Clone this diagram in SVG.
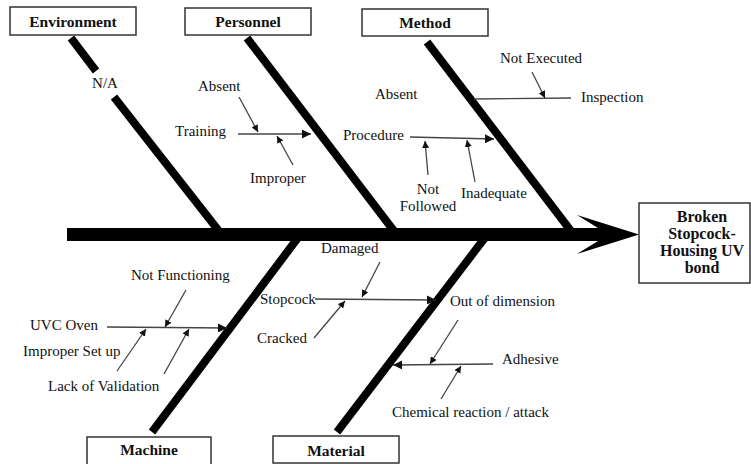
<svg xmlns="http://www.w3.org/2000/svg" width="751" height="464" viewBox="0 0 751 464">
<defs>
<style>
text{font-family:"Liberation Serif","Times New Roman","DejaVu Serif",serif;font-size:15px;fill:#111}
.hd{font-weight:bold;font-size:15.5px;text-anchor:middle}
.ef{font-weight:bold;font-size:16px;text-anchor:middle}
.box{fill:#fff;stroke:#333;stroke-width:1.5}
.bone{stroke:#000;stroke-width:8;fill:none}
.sub{stroke:#444;stroke-width:1.3;fill:none}
.sa{stroke:#444;stroke-width:1.3;fill:none;marker-end:url(#ah)}
</style>
<marker id="ah" viewBox="0 0 10 10" refX="10" refY="5" markerWidth="7" markerHeight="7" markerUnits="userSpaceOnUse" orient="auto">
<path d="M0,0 L10,5 L0,10 Z" fill="#111"/>
</marker>
<marker id="ahb" viewBox="0 0 10 10" refX="10" refY="5" markerWidth="9" markerHeight="9" markerUnits="userSpaceOnUse" orient="auto">
<path d="M0,0 L10,5 L0,10 Z" fill="#111"/>
</marker>
</defs>
<rect width="751" height="464" fill="#fff"/>
<g id="connectors">
<rect x="67" y="228" width="533" height="13" fill="#000"/>
<polygon points="577,215 639,234.5 577,254 598,241 598,228" fill="#000"/>
<line class="bone" x1="71" y1="38" x2="96" y2="71"/>
<line class="bone" x1="114" y1="97" x2="222" y2="235"/>
<line class="bone" x1="247" y1="38" x2="397" y2="235"/>
<line class="bone" x1="427" y1="42" x2="574" y2="235"/>
<line class="bone" x1="152" y1="432" x2="300" y2="235"/>
<line class="bone" x1="337" y1="432" x2="487" y2="235"/>
<line class="sa" x1="238" y1="134" x2="311" y2="134" style="marker-end:url(#ahb)"/>
<line class="sa" x1="239" y1="97" x2="258" y2="132"/>
<line class="sa" x1="293" y1="165" x2="277" y2="136"/>
<line class="sa" x1="410" y1="137" x2="494" y2="139" style="marker-end:url(#ahb)"/>
<line class="sa" x1="428" y1="175" x2="425" y2="141"/>
<line class="sa" x1="475" y1="182" x2="467" y2="140"/>
<line class="sub" x1="571" y1="98" x2="474" y2="99"/>
<line class="sa" x1="532" y1="72" x2="545" y2="98"/>
<line class="sa" x1="107" y1="327" x2="227" y2="328" style="marker-end:url(#ahb)"/>
<line class="sa" x1="186" y1="290" x2="165" y2="327"/>
<line class="sa" x1="117" y1="371" x2="146" y2="329"/>
<line class="sa" x1="164" y1="374" x2="189" y2="329"/>
<line class="sa" x1="315" y1="299" x2="436" y2="300" style="marker-end:url(#ahb)"/>
<line class="sa" x1="380" y1="262" x2="362" y2="297"/>
<line class="sa" x1="314" y1="338" x2="345" y2="301"/>
<line class="sa" x1="493" y1="364" x2="393" y2="365" style="marker-end:url(#ahb)"/>
<line class="sa" x1="458" y1="320" x2="430" y2="364"/>
<line class="sa" x1="441" y1="399" x2="461" y2="366"/>
</g>
<g id="environment">
<rect class="box" x="10" y="7" width="126" height="28"/>
<text class="hd" x="73" y="27">Environment</text>
<text x="105" y="88" text-anchor="middle">N/A</text>
</g>
<g id="personnel">
<rect class="box" x="185" y="8" width="126" height="27"/>
<text class="hd" x="248" y="27">Personnel</text>
<text x="198" y="91">Absent</text>
<text x="175" y="136">Training</text>
<text x="250" y="183">Improper</text>
</g>
<g id="method">
<rect class="box" x="362" y="9" width="126" height="27"/>
<text class="hd" x="425" y="28">Method</text>
<text x="375" y="99">Absent</text>
<text x="343" y="140">Procedure</text>
<text x="428" y="194" text-anchor="middle">Not</text>
<text x="428" y="211" text-anchor="middle">Followed</text>
<text x="461" y="198">Inadequate</text>
<text x="500" y="63">Not Executed</text>
<text x="581" y="102">Inspection</text>
</g>
<g id="machine">
<rect class="box" x="87" y="437" width="124" height="30"/>
<text class="hd" x="149" y="455">Machine</text>
<text x="131" y="280">Not Functioning</text>
<text x="30" y="330">UVC Oven</text>
<text x="23" y="356">Improper Set up</text>
<text x="48" y="391">Lack of Validation</text>
</g>
<g id="material">
<rect class="box" x="273" y="436" width="126" height="27"/>
<text class="hd" x="336" y="456">Material</text>
<text x="321" y="253">Damaged</text>
<text x="260" y="304">Stopcock</text>
<text x="257" y="343">Cracked</text>
<text x="450" y="306">Out of dimension</text>
<text x="502" y="364">Adhesive</text>
<text x="392" y="417">Chemical reaction / attack</text>
</g>
<g id="effect">
<rect class="box" x="639" y="203" width="111" height="80"/>
<text class="ef" x="702" y="222">Broken</text>
<text class="ef" x="702" y="239">Stopcock-</text>
<text class="ef" x="702" y="256">Housing UV</text>
<text class="ef" x="702" y="273">bond</text>
</g>
</svg>
